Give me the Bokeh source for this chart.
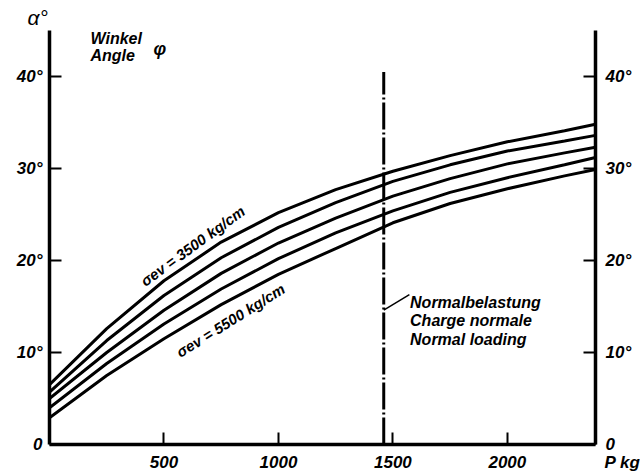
from bokeh.plotting import figure
from bokeh.models import Range1d, LinearAxis, FixedTicker, Label
from bokeh.embed import file_html
from bokeh.resources import INLINE

# ---- data ----
load_P = [0, 250, 500, 750, 1000, 1250, 1500, 1750, 2000, 2250, 2385]
angle_3500 = [6.5, 12.6, 17.8, 22.0, 25.2, 27.7, 29.7, 31.4, 32.9, 34.1, 34.8]
angle_4000 = [5.7, 11.3, 16.2, 20.3, 23.6, 26.3, 28.6, 30.4, 31.9, 33.0, 33.6]
angle_4500 = [5.0, 10.0, 14.6, 18.6, 21.9, 24.6, 27.0, 28.9, 30.5, 31.7, 32.3]
angle_5000 = [4.0, 8.8, 13.1, 16.9, 20.2, 23.0, 25.4, 27.4, 29.0, 30.4, 31.2]
angle_5500 = [2.9, 7.5, 11.5, 15.2, 18.5, 21.3, 24.1, 26.2, 27.8, 29.2, 29.9]
series = [angle_3500, angle_4000, angle_4500, angle_5000, angle_5500]

normal_load = 1460
normal_top = 40.5

y_ticks = [0, 10, 20, 30, 40]
y_tick_labels = ["0", "10°", "20°", "30°", "40°"]
x_ticks = [500, 1000, 1500, 2000, 2385]
x_tick_labels = ["500", "1000", "1500", "2000", "\u00a0" * 12 + "P kg"]

FONT = "Liberation Sans"

p = figure(width=640, height=475, x_range=Range1d(0, 2385), y_range=Range1d(0, 45),
           output_backend="svg", toolbar_location=None,
           x_axis_location=None, y_axis_location=None,
           min_border_left=49, min_border_right=45, min_border_top=30, min_border_bottom=31)
p.outline_line_color = None
p.xgrid.visible = False
p.ygrid.visible = False
p.background_fill_color = "white"
p.border_fill_color = "white"

p.title.text = "α°"
p.title.align = "left"
p.title.offset = -22
p.title.standoff = 3
p.title.text_font = FONT
p.title.text_font_style = "italic"
p.title.text_font_size = "21px"
p.title.text_color = "black"


def style_axis(ax):
    ax.axis_line_width = 3.5
    ax.axis_line_color = "black"
    ax.major_tick_in = 12
    ax.major_tick_out = 0
    ax.major_tick_line_width = 2
    ax.minor_tick_line_color = None
    ax.major_label_text_font = FONT
    ax.major_label_text_font_style = "bold italic"
    ax.major_label_text_font_size = "17px"
    ax.major_label_text_color = "black"


ly = LinearAxis(ticker=FixedTicker(ticks=y_ticks),
                major_label_overrides={t: l for t, l in zip(y_ticks, y_tick_labels)})
style_axis(ly)
ly.major_label_standoff = 7
p.add_layout(ly, "left")

ry = LinearAxis(ticker=FixedTicker(ticks=y_ticks),
                major_label_overrides={t: l for t, l in zip(y_ticks, y_tick_labels)})
style_axis(ry)
ry.major_label_standoff = 10
p.add_layout(ry, "right")

bx = LinearAxis(ticker=FixedTicker(ticks=x_ticks),
                major_label_overrides={t: l for t, l in zip(x_ticks, x_tick_labels)})
style_axis(bx)
bx.major_label_standoff = 8
p.add_layout(bx, "below")

for s in series:
    p.line(load_P, s, line_color="black", line_width=3)

p.line([normal_load, normal_load], [0, normal_top], line_color="black",
       line_width=3, line_dash="27 3 2 3")
p.line([normal_load, 1572], [14.6, 16.3], line_color="black", line_width=1.5)


def lab(x, y, text, size="16px", style="bold italic", angle=0, align="left"):
    p.add_layout(Label(x=x, y=y, text=text, text_font=FONT, text_font_style=style,
                       text_font_size=size, text_color="black", angle=angle,
                       angle_units="deg", text_align=align, text_baseline="alphabetic"))


lab(179, 44.15, "Winkel")
lab(179, 42.3, "Angle")
lab(454, 42.95, "φ", size="18px")

lab(1575, 15.45, "Normalbelastung")
lab(1575, 13.45, "Charge normale")
lab(1575, 11.45, "Normal loading")

lab(405, 17.6, "σev = 3500 kg/cm", size="15px", angle=36)
lab(560, 9.9, "σev = 5500 kg/cm", size="15px", angle=32)

open("out.html", "w").write(file_html(p, INLINE))
